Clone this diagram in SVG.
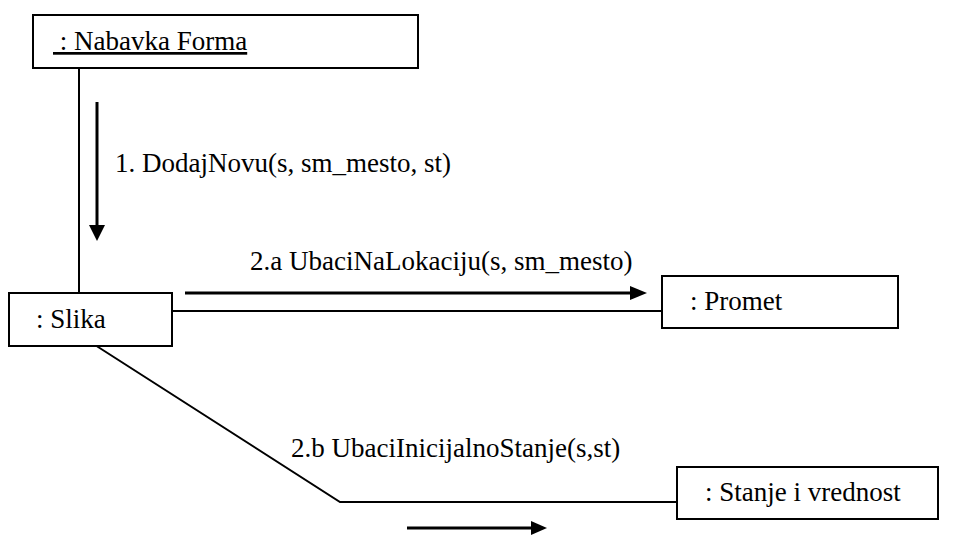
<svg xmlns="http://www.w3.org/2000/svg" width="956" height="535" viewBox="0 0 956 535">
<style>
text{font-family:'Liberation Serif',serif;font-size:27px;fill:#000}
.box{fill:#fff;stroke:#000;stroke-width:2}
.conn{stroke:#000;stroke-width:2;fill:none}
.msg{stroke:#000;stroke-width:3;fill:none}
.head{fill:#000}
</style>
<rect width="956" height="535" fill="#fff"/>
<g font-family="Liberation Serif">
<g id="connectors">
<line class="conn" x1="79" y1="68" x2="79" y2="293"/>
<line class="conn" x1="172" y1="311" x2="662" y2="311"/>
<polyline class="conn" points="95,345 340,502 677,502"/>
</g>
<g id="messages">
<line class="msg" x1="97" y1="102" x2="97" y2="226"/>
<polygon class="head" points="89,225 105,225 97,241"/>
<text x="115" y="172">1. DodajNovu(s, sm_mesto, st)</text>
<line class="msg" x1="185" y1="293" x2="631" y2="293"/>
<polygon class="head" points="630,286 647,293 630,300"/>
<text x="250" y="270">2.a UbaciNaLokaciju(s, sm_mesto)</text>
<line class="msg" x1="407" y1="528" x2="532" y2="528"/>
<polygon class="head" points="531,521 547,528 531,535"/>
<text x="291" y="457">2.b UbaciInicijalnoStanje(s,st)</text>
</g>
<g id="nabavka">
<rect class="box" x="33" y="15" width="385" height="53"/>
<text x="53" y="50" text-decoration="underline" xml:space="preserve"> : Nabavka Forma</text>
</g>
<g id="slika">
<rect class="box" x="9" y="293" width="163" height="53"/>
<text x="36" y="328">: Slika</text>
</g>
<g id="promet">
<rect class="box" x="662" y="276" width="236" height="52"/>
<text x="690" y="310">: Promet</text>
</g>
<g id="stanje">
<rect class="box" x="677" y="467" width="261" height="52"/>
<text x="705" y="501">: Stanje i vrednost</text>
</g>
</g>
</svg>
